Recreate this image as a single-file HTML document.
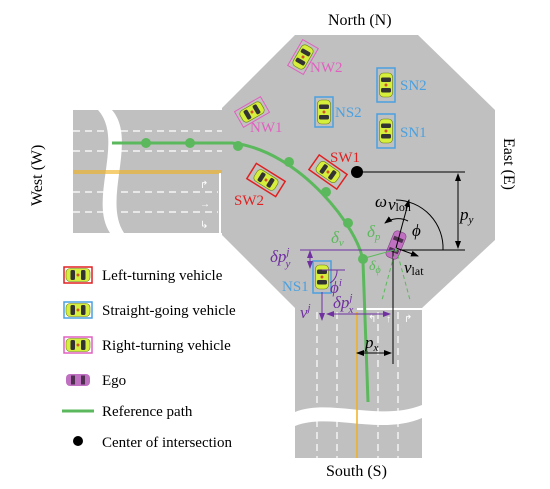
<!DOCTYPE html>
<html><head><meta charset="utf-8"><style>
body{margin:0;background:#fff}
svg{display:block;font-family:"Liberation Serif",serif}
</style></head><body>
<svg width="550" height="489" viewBox="0 0 550 489">
<defs>
<g id="car">
<rect x="-6.5" y="-12" width="13" height="24" rx="4" fill="#d6ef3c" stroke="#6a7a10" stroke-width="0.6"/>
<rect x="-5" y="-7.5" width="10" height="4.5" rx="1.5" fill="#333"/>
<rect x="-5" y="3" width="10" height="4.5" rx="1.5" fill="#333"/>
<circle cx="0" cy="0" r="1.5" fill="#d0552a"/>
</g>
<marker id="ab" markerWidth="8" markerHeight="8" refX="7" refY="4" orient="auto"><path d="M0,1 L8,4 L0,7Z" fill="#000"/></marker>
<marker id="ap" markerWidth="8" markerHeight="8" refX="7" refY="4" orient="auto"><path d="M0,1 L8,4 L0,7Z" fill="#7030a0"/></marker>
<marker id="aps" markerWidth="8" markerHeight="8" refX="1" refY="4" orient="auto"><path d="M8,1 L0,4 L8,7Z" fill="#7030a0"/></marker>
<marker id="abs" markerWidth="8" markerHeight="8" refX="1" refY="4" orient="auto"><path d="M8,1 L0,4 L8,7Z" fill="#000"/></marker>
</defs>
<rect x="73" y="110" width="150" height="123" fill="#c0c0c0"/>
<path d="M98,110 C125,140 88,200 110,233 L124,233 C102,200 138,140 112,110Z" fill="#fff"/>
<g stroke="#fff" stroke-width="1.2" stroke-dasharray="7,5">
<line x1="73" y1="131" x2="222" y2="131"/><line x1="73" y1="151" x2="222" y2="151"/>
<line x1="73" y1="192" x2="218" y2="192"/><line x1="73" y1="212" x2="218" y2="212"/>
</g>
<line x1="73" y1="171" x2="222" y2="171" stroke="#f0b020" stroke-width="1.2"/>
<line x1="73" y1="173" x2="222" y2="173" stroke="#f0b020" stroke-width="1.2"/>
<line x1="220" y1="173" x2="220" y2="233" stroke="#fff" stroke-width="2"/>
<rect x="295" y="300" width="127" height="158" fill="#c0c0c0"/>
<path d="M295,412 C330,398 380,422 422,405 L422,418 C380,436 330,412 295,426Z" fill="#fff"/>
<g stroke="#fff" stroke-width="1.2" stroke-dasharray="7,5">
<line x1="317" y1="312" x2="317" y2="458"/><line x1="337" y1="312" x2="337" y2="458"/>
<line x1="378" y1="312" x2="378" y2="458"/><line x1="398" y1="312" x2="398" y2="458"/>
</g>
<line x1="357" y1="312" x2="357" y2="458" stroke="#f0b020" stroke-width="1.5"/>
<line x1="357" y1="309" x2="422" y2="309" stroke="#fff" stroke-width="2"/>
<polygon points="295,35 418,35 495,110 495,240 422,308 295,308 222,235 222,108" fill="#c0c0c0"/>
<g fill="#fff" font-size="10" font-family="Liberation Sans">
<text x="200" y="188">↱</text><text x="200" y="207">→</text><text x="200" y="228">↳</text>
<text x="368" y="322">↰</text><text x="386" y="322">↑</text><text x="404" y="322">↱</text>
</g>
<path d="M112,143 L232,143 C300,150 360,230 363,262 L368,402" fill="none" stroke="#5cb85c" stroke-width="3"/>
<g fill="#5cb85c">
<circle cx="146" cy="143" r="5"/><circle cx="190" cy="143" r="5"/><circle cx="238" cy="146" r="5"/>
<circle cx="289" cy="162" r="5"/><circle cx="326" cy="192" r="5"/><circle cx="348" cy="223" r="5"/><circle cx="363" cy="259" r="5"/>
</g>
<g transform="translate(303,57) rotate(30)"><rect x="-9" y="-15" width="18" height="30" fill="none" stroke="#e060c0"/><use href="#car"/></g>
<g transform="translate(252,112) rotate(60)"><rect x="-9" y="-15" width="18" height="30" fill="none" stroke="#e060c0"/><use href="#car"/></g>
<g transform="translate(324,112)"><rect x="-9" y="-15" width="18" height="30" fill="none" stroke="#4aa0e0" stroke-width="1.5"/><use href="#car"/></g>
<g transform="translate(386,85)"><rect x="-9" y="-17" width="18" height="34" fill="none" stroke="#4aa0e0" stroke-width="1.5"/><use href="#car"/></g>
<g transform="translate(386,131)"><rect x="-9" y="-17" width="18" height="34" fill="none" stroke="#4aa0e0" stroke-width="1.5"/><use href="#car"/></g>
<g transform="translate(328,172) rotate(-55)"><rect x="-9" y="-17" width="18" height="34" fill="none" stroke="#e02020" stroke-width="1.5"/><use href="#car"/></g>
<g transform="translate(266,180) rotate(-58)"><rect x="-9" y="-17" width="18" height="34" fill="none" stroke="#e02020" stroke-width="1.5"/><use href="#car"/></g>
<g transform="translate(322,277)"><rect x="-9" y="-16" width="18" height="32" fill="none" stroke="#4aa0e0" stroke-width="1.5"/><use href="#car"/></g>
<g transform="translate(396,245) rotate(22)"><rect x="-6.5" y="-14" width="13" height="28" rx="4" fill="#c070c0" stroke="#804080" stroke-width="0.6"/><rect x="-5" y="-8" width="10" height="4" fill="#503050"/><rect x="-5" y="4" width="10" height="4" fill="#503050"/></g>
<g font-size="15">
<text x="310" y="72" fill="#e060c0">NW2</text><text x="250" y="132" fill="#e060c0">NW1</text>
<text x="335" y="117" fill="#4aa0e0">NS2</text><text x="400" y="90" fill="#4aa0e0">SN2</text><text x="400" y="137" fill="#4aa0e0">SN1</text>
<text x="330" y="162" fill="#e02020">SW1</text><text x="234" y="205" fill="#e02020">SW2</text>
<text x="282" y="291" fill="#4aa0e0">NS1</text>
</g>
<circle cx="357" cy="172" r="6" fill="#000"/>
<line x1="357" y1="172" x2="465" y2="172" stroke="#000"/>
<line x1="458" y1="174" x2="458" y2="248" stroke="#000" marker-start="url(#abs)" marker-end="url(#ab)"/>
<line x1="400" y1="250" x2="465" y2="250" stroke="#000"/>
<line x1="300" y1="250" x2="396" y2="250" stroke="#7030a0"/>
<line x1="393" y1="250" x2="393" y2="364" stroke="#000"/>
<line x1="357" y1="353" x2="391" y2="353" stroke="#000" marker-start="url(#abs)" marker-end="url(#ab)"/>
<line x1="396" y1="248" x2="409" y2="200" stroke="#000" marker-end="url(#ab)"/>
<line x1="396" y1="248" x2="418" y2="256" stroke="#000" marker-end="url(#ab)"/>
<path d="M396,200 A48,48 0 0 1 443,250" fill="none" stroke="#000"/>
<path d="M408,221 A22,22 0 0 0 385,223" fill="none" stroke="#000" marker-end="url(#ab)"/>
<line x1="396" y1="248" x2="410" y2="300" stroke="#5cb85c" stroke-dasharray="4,3"/>
<line x1="396" y1="248" x2="382" y2="300" stroke="#5cb85c" stroke-dasharray="4,3"/>
<line x1="365" y1="258" x2="394" y2="250" stroke="#5cb85c"/>
<line x1="310" y1="251" x2="310" y2="268" stroke="#7030a0" marker-start="url(#aps)" marker-end="url(#ap)"/>
<line x1="322" y1="292" x2="322" y2="320" stroke="#7030a0" marker-end="url(#ap)"/>
<line x1="327" y1="314" x2="390" y2="314" stroke="#7030a0" marker-start="url(#aps)" marker-end="url(#ap)"/>
<line x1="322" y1="270" x2="345" y2="270" stroke="#7030a0"/>
<path d="M337,270 A14,14 0 0 1 330,283" fill="none" stroke="#7030a0"/>
<g font-style="italic" font-size="17">
<text x="375" y="207">ω</text><text x="388" y="210">v<tspan font-size="12" font-style="normal" dy="1">lon</tspan></text>
<text x="412" y="236">ϕ</text><text x="404" y="273">v<tspan font-size="12" font-style="normal" dy="2">lat</tspan></text>
<text x="460" y="220">p<tspan font-size="11" dy="3">y</tspan></text>
<text x="365" y="348">p<tspan font-size="11" dy="3">x</tspan></text>
<text x="331" y="243" fill="#5cb85c">δ<tspan font-size="11" dy="3">v</tspan></text>
<text x="367" y="237" fill="#5cb85c">δ<tspan font-size="11" dy="3">p</tspan></text>
<text x="369" y="270" fill="#5cb85c" font-size="14">δ<tspan font-size="10" dy="3">ϕ</tspan></text>
<text x="270" y="262" fill="#7030a0">δp<tspan font-size="11" dy="-7">j</tspan><tspan font-size="11" dx="-4" dy="12">y</tspan></text>
<text x="330" y="293" fill="#7030a0">ϕ<tspan font-size="11" dy="-7">i</tspan></text>
<text x="333" y="308" fill="#7030a0">δp<tspan font-size="11" dy="-7">j</tspan><tspan font-size="11" dx="-4" dy="12">x</tspan></text>
<text x="300" y="318" fill="#7030a0">v<tspan font-size="11" dy="-7">j</tspan></text>
</g>
<g font-size="16">
<text x="328" y="25">North (N)</text>
<text x="326" y="476">South (S)</text>
<text transform="translate(42,206) rotate(-90)">West (W)</text>
<text transform="translate(504,138) rotate(90)">East (E)</text>
</g>
<g font-size="15">
<g transform="translate(78,275) rotate(90)"><rect x="-8" y="-14" width="16" height="28" fill="none" stroke="#e02020" stroke-width="1.5"/><use href="#car"/></g>
<text x="102" y="280">Left-turning vehicle</text>
<g transform="translate(78,310) rotate(90)"><rect x="-8" y="-14" width="16" height="28" fill="none" stroke="#4aa0e0" stroke-width="1.5"/><use href="#car"/></g>
<text x="102" y="315">Straight-going vehicle</text>
<g transform="translate(78,345) rotate(90)"><rect x="-8" y="-14" width="16" height="28" fill="none" stroke="#e060c0" stroke-width="1.5"/><use href="#car"/></g>
<text x="102" y="350">Right-turning vehicle</text>
<g transform="translate(78,380) rotate(90)"><rect x="-6" y="-12" width="12" height="24" rx="4" fill="#c070c0"/><rect x="-4.5" y="-7" width="9" height="4" fill="#503050"/><rect x="-4.5" y="3" width="9" height="4" fill="#503050"/></g>
<text x="102" y="385">Ego</text>
<line x1="62" y1="411" x2="94" y2="411" stroke="#5cb85c" stroke-width="3"/>
<text x="102" y="416">Reference path</text>
<circle cx="78" cy="441" r="5" fill="#000"/>
<text x="102" y="447">Center of intersection</text>
</g>
</svg>
</body></html>
